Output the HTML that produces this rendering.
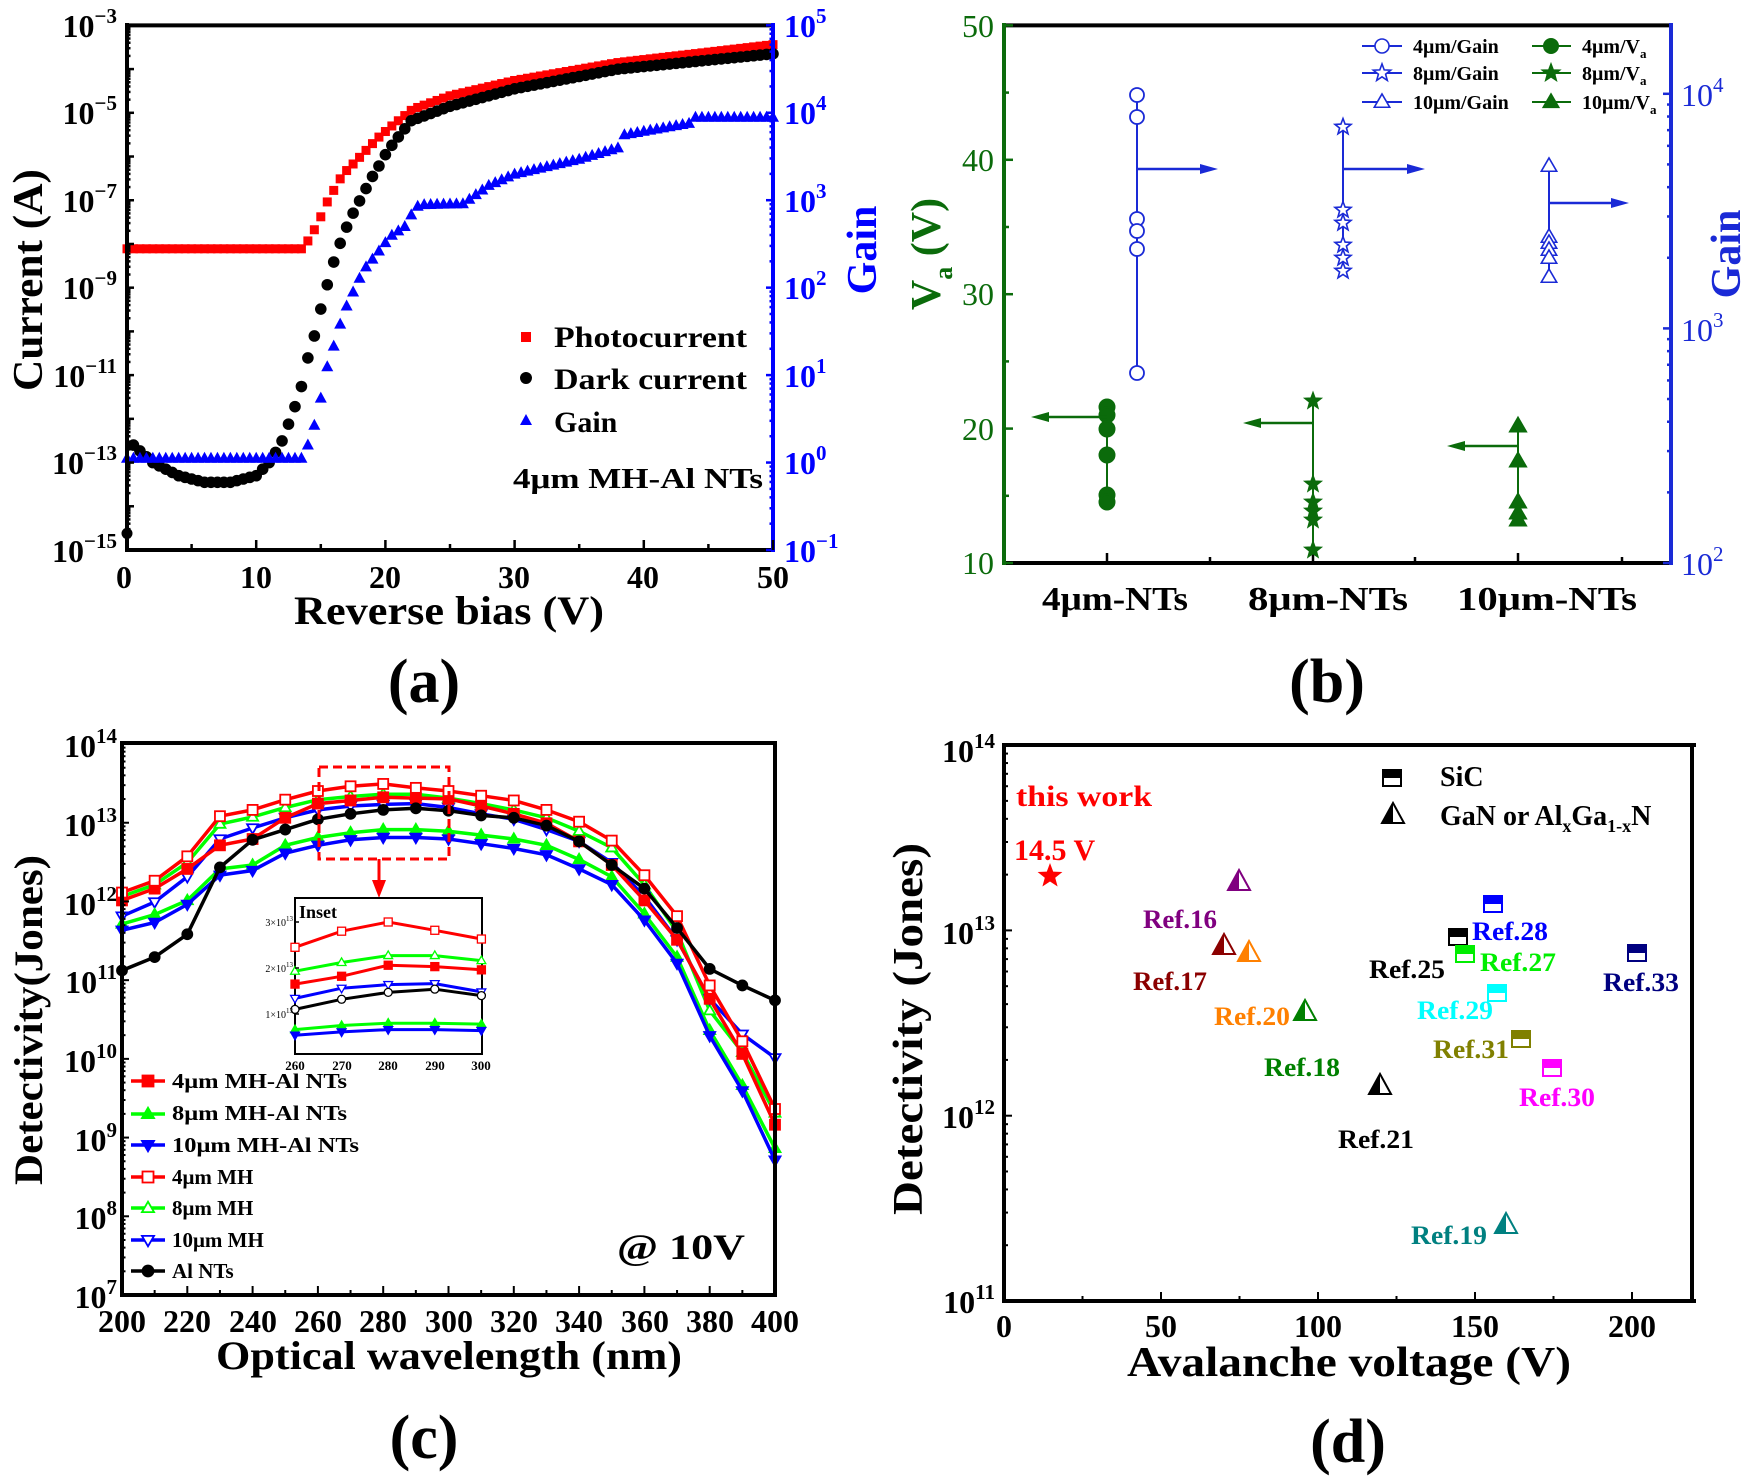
<!DOCTYPE html>
<html><head><meta charset="utf-8"><style>
html,body{margin:0;padding:0;background:#fff}
svg{display:block}
text{font-family:"Liberation Serif",serif;font-weight:bold}
</style></head><body>
<svg id="s" xmlns="http://www.w3.org/2000/svg" width="1750" height="1478" viewBox="0 0 1750 1478">
<rect width="1750" height="1478" fill="#fff"/>
<g id="dyn"></g>

<!-- ===== Panel (a) ===== -->
<g font-size="32">
<text x="117" y="37" text-anchor="end">10<tspan dy="-14" font-size="21">−3</tspan></text>
<text x="117" y="124" text-anchor="end">10<tspan dy="-14" font-size="21">−5</tspan></text>
<text x="117" y="212" text-anchor="end">10<tspan dy="-14" font-size="21">−7</tspan></text>
<text x="117" y="299" text-anchor="end">10<tspan dy="-14" font-size="21">−9</tspan></text>
<text x="117" y="387" text-anchor="end">10<tspan dy="-14" font-size="21">−11</tspan></text>
<text x="117" y="474" text-anchor="end">10<tspan dy="-14" font-size="21">−13</tspan></text>
<text x="117" y="562" text-anchor="end">10<tspan dy="-14" font-size="21">−15</tspan></text>
<text x="124" y="588" text-anchor="middle">0</text>
<text x="256" y="588" text-anchor="middle">10</text>
<text x="385" y="588" text-anchor="middle">20</text>
<text x="514" y="588" text-anchor="middle">30</text>
<text x="643" y="588" text-anchor="middle">40</text>
<text x="773" y="588" text-anchor="middle">50</text>
</g>
<g font-size="32" fill="#0000ff">
<text x="784" y="37">10<tspan dy="-14" font-size="21">5</tspan></text>
<text x="784" y="124">10<tspan dy="-14" font-size="21">4</tspan></text>
<text x="784" y="212">10<tspan dy="-14" font-size="21">3</tspan></text>
<text x="784" y="299">10<tspan dy="-14" font-size="21">2</tspan></text>
<text x="784" y="387">10<tspan dy="-14" font-size="21">1</tspan></text>
<text x="784" y="474">10<tspan dy="-14" font-size="21">0</tspan></text>
<text x="784" y="562">10<tspan dy="-14" font-size="21">−1</tspan></text>
</g>
<text x="449" y="624" font-size="40" text-anchor="middle" textLength="310" lengthAdjust="spacingAndGlyphs">Reverse bias (V)</text>
<text transform="translate(42,280) rotate(-90)" font-size="42" text-anchor="middle" textLength="222" lengthAdjust="spacingAndGlyphs">Current (A)</text>
<text transform="translate(876,250) rotate(-90)" font-size="42" fill="#0000ff" text-anchor="middle">Gain</text>
<g font-size="30">
<text x="554" y="347" textLength="193" lengthAdjust="spacingAndGlyphs">Photocurrent</text>
<text x="554" y="389" textLength="193" lengthAdjust="spacingAndGlyphs">Dark current</text>
<text x="554" y="432">Gain</text>
<text x="513" y="488" font-size="28" textLength="250" lengthAdjust="spacingAndGlyphs">4μm MH-Al NTs</text>
</g>
<text x="424" y="702" font-size="62" text-anchor="middle">(a)</text>

<!-- ===== Panel (b) ===== -->
<g font-size="32" fill="#0b6b0b" text-anchor="end">
<text x="994" y="37" style="font-weight:normal">50</text>
<text x="994" y="171" style="font-weight:normal">40</text>
<text x="994" y="305" style="font-weight:normal">30</text>
<text x="994" y="440" style="font-weight:normal">20</text>
<text x="994" y="574" style="font-weight:normal">10</text>
</g>
<g font-size="32" fill="#1a2ad6">
<text x="1681" y="106" style="font-weight:normal">10<tspan dy="-14" font-size="21">4</tspan></text>
<text x="1681" y="341" style="font-weight:normal">10<tspan dy="-14" font-size="21">3</tspan></text>
<text x="1681" y="575" style="font-weight:normal">10<tspan dy="-14" font-size="21">2</tspan></text>
</g>
<text transform="translate(940,254) rotate(-90)" font-size="42" fill="#0b6b0b" text-anchor="middle">V<tspan font-size="26" dy="12">a</tspan><tspan dy="-12"> (V)</tspan></text>
<text transform="translate(1740,254) rotate(-90)" font-size="42" fill="#1a2ad6" text-anchor="middle">Gain</text>
<g font-size="34" text-anchor="middle">
<text x="1115" y="610" textLength="146" lengthAdjust="spacingAndGlyphs">4μm-NTs</text>
<text x="1328" y="610" textLength="160" lengthAdjust="spacingAndGlyphs">8μm-NTs</text>
<text x="1547" y="610" textLength="180" lengthAdjust="spacingAndGlyphs">10μm-NTs</text>
</g>
<g font-size="20">
<text x="1413" y="53">4μm/Gain</text>
<text x="1413" y="80">8μm/Gain</text>
<text x="1413" y="109">10μm/Gain</text>
<text x="1582" y="53">4μm/V<tspan font-size="13" dy="5">a</tspan></text>
<text x="1582" y="80">8μm/V<tspan font-size="13" dy="5">a</tspan></text>
<text x="1582" y="109">10μm/V<tspan font-size="13" dy="5">a</tspan></text>
</g>
<text x="1327" y="702" font-size="62" text-anchor="middle">(b)</text>

<!-- ===== Panel (c) ===== -->
<g font-size="32">
<text x="117" y="757" text-anchor="end">10<tspan dy="-14" font-size="21">14</tspan></text>
<text x="117" y="836" text-anchor="end">10<tspan dy="-14" font-size="21">13</tspan></text>
<text x="117" y="915" text-anchor="end">10<tspan dy="-14" font-size="21">12</tspan></text>
<text x="117" y="993" text-anchor="end">10<tspan dy="-14" font-size="21">11</tspan></text>
<text x="117" y="1072" text-anchor="end">10<tspan dy="-14" font-size="21">10</tspan></text>
<text x="117" y="1151" text-anchor="end">10<tspan dy="-14" font-size="21">9</tspan></text>
<text x="117" y="1229" text-anchor="end">10<tspan dy="-14" font-size="21">8</tspan></text>
<text x="117" y="1308" text-anchor="end">10<tspan dy="-14" font-size="21">7</tspan></text>
<text x="122" y="1332" text-anchor="middle">200</text>
<text x="187" y="1332" text-anchor="middle">220</text>
<text x="253" y="1332" text-anchor="middle">240</text>
<text x="318" y="1332" text-anchor="middle">260</text>
<text x="383" y="1332" text-anchor="middle">280</text>
<text x="449" y="1332" text-anchor="middle">300</text>
<text x="514" y="1332" text-anchor="middle">320</text>
<text x="579" y="1332" text-anchor="middle">340</text>
<text x="645" y="1332" text-anchor="middle">360</text>
<text x="710" y="1332" text-anchor="middle">380</text>
<text x="775" y="1332" text-anchor="middle">400</text>
</g>
<text x="449" y="1369" font-size="40" text-anchor="middle" textLength="466" lengthAdjust="spacingAndGlyphs">Optical wavelength (nm)</text>
<text transform="translate(42,1020) rotate(-90)" font-size="40" text-anchor="middle" textLength="330" lengthAdjust="spacingAndGlyphs">Detectivity(Jones)</text>
<g font-size="21">
<text x="172" y="1088" textLength="175" lengthAdjust="spacingAndGlyphs">4μm MH-Al NTs</text>
<text x="172" y="1120" textLength="175" lengthAdjust="spacingAndGlyphs">8μm MH-Al NTs</text>
<text x="172" y="1152" textLength="187" lengthAdjust="spacingAndGlyphs">10μm MH-Al NTs</text>
<text x="172" y="1184">4μm MH</text>
<text x="172" y="1215">8μm MH</text>
<text x="172" y="1247">10μm MH</text>
<text x="172" y="1278">Al NTs</text>
</g>
<text x="617" y="1259" font-size="36" textLength="128" lengthAdjust="spacingAndGlyphs">@ 10V</text>
<g font-size="10" text-anchor="end">
<text x="293" y="926" style="font-weight:normal">3×10<tspan dy="-5" font-size="7">13</tspan></text>
<text x="293" y="972" style="font-weight:normal">2×10<tspan dy="-5" font-size="7">13</tspan></text>
<text x="293" y="1018" style="font-weight:normal">1×10<tspan dy="-5" font-size="7">13</tspan></text>
</g>
<g font-size="13" text-anchor="middle">
<text x="295" y="1070">260</text><text x="342" y="1070">270</text><text x="388" y="1070">280</text><text x="435" y="1070">290</text><text x="481" y="1070">300</text>
</g>
<text x="299" y="918" font-size="18">Inset</text>
<text x="424" y="1458" font-size="62" text-anchor="middle">(c)</text>

<!-- ===== Panel (d) ===== -->
<g font-size="32">
<text x="995" y="762" text-anchor="end">10<tspan dy="-14" font-size="21">14</tspan></text>
<text x="995" y="944" text-anchor="end">10<tspan dy="-14" font-size="21">13</tspan></text>
<text x="995" y="1128" text-anchor="end">10<tspan dy="-14" font-size="21">12</tspan></text>
<text x="995" y="1313" text-anchor="end">10<tspan dy="-14" font-size="21">11</tspan></text>
<text x="1004" y="1337" text-anchor="middle">0</text>
<text x="1161" y="1337" text-anchor="middle">50</text>
<text x="1318" y="1337" text-anchor="middle">100</text>
<text x="1475" y="1337" text-anchor="middle">150</text>
<text x="1632" y="1337" text-anchor="middle">200</text>
</g>
<text x="1349" y="1376" font-size="42" text-anchor="middle" textLength="444" lengthAdjust="spacingAndGlyphs">Avalanche voltage (V)</text>
<text transform="translate(922,1029) rotate(-90)" font-size="42" text-anchor="middle" textLength="372" lengthAdjust="spacingAndGlyphs">Detectivity (Jones)</text>
<text x="1016" y="806" font-size="30" fill="#ff0000" textLength="136" lengthAdjust="spacingAndGlyphs">this work</text>
<text x="1014" y="860" font-size="30" fill="#ff0000">14.5 V</text>
<g font-size="28">
<text x="1440" y="786">SiC</text>
<text x="1440" y="825">GaN or Al<tspan font-size="18" dy="7">x</tspan><tspan dy="-7">Ga</tspan><tspan font-size="18" dy="7">1-x</tspan><tspan dy="-7">N</tspan></text>
</g>
<g font-size="26" text-anchor="middle" lengthAdjust="spacingAndGlyphs">
<text x="1180" y="928" fill="#800080" textLength="74" lengthAdjust="spacingAndGlyphs">Ref.16</text>
<text x="1170" y="990" fill="#8b0000" textLength="74" lengthAdjust="spacingAndGlyphs">Ref.17</text>
<text x="1252" y="1025" fill="#ff8000" textLength="76" lengthAdjust="spacingAndGlyphs">Ref.20</text>
<text x="1302" y="1076" fill="#008000" textLength="76" lengthAdjust="spacingAndGlyphs">Ref.18</text>
<text x="1376" y="1148" textLength="76" lengthAdjust="spacingAndGlyphs">Ref.21</text>
<text x="1449" y="1244" fill="#008080" textLength="76" lengthAdjust="spacingAndGlyphs">Ref.19</text>
<text x="1407" y="978" textLength="76" lengthAdjust="spacingAndGlyphs">Ref.25</text>
<text x="1510" y="940" fill="#0000ff" textLength="76" lengthAdjust="spacingAndGlyphs">Ref.28</text>
<text x="1518" y="971" fill="#00ee00" textLength="76" lengthAdjust="spacingAndGlyphs">Ref.27</text>
<text x="1455" y="1019" fill="#00ffff" textLength="76" lengthAdjust="spacingAndGlyphs">Ref.29</text>
<text x="1471" y="1058" fill="#808000" textLength="76" lengthAdjust="spacingAndGlyphs">Ref.31</text>
<text x="1557" y="1106" fill="#ff00ff" textLength="76" lengthAdjust="spacingAndGlyphs">Ref.30</text>
<text x="1641" y="991" fill="#000080" textLength="76" lengthAdjust="spacingAndGlyphs">Ref.33</text>
</g>
<text x="1348" y="1462" font-size="62" text-anchor="middle">(d)</text>
</svg>
<script>
const NS="http://www.w3.org/2000/svg";const G=document.getElementById('dyn');
function el(t,a,p){const e=document.createElementNS(NS,t);for(const k in a)e.setAttribute(k,a[k]);(p||G).appendChild(e);return e;}
function interp(pts,x){for(let i=0;i<pts.length-1;i++){if(x>=pts[i][0]&&x<=pts[i+1][0]){const t=(x-pts[i][0])/(pts[i+1][0]-pts[i][0]||1);return pts[i][1]+t*(pts[i+1][1]-pts[i][1]);}}return pts[pts.length-1][1];}
function starPts(cx,cy,r){let s=[];for(let i=0;i<10;i++){const a=-Math.PI/2+i*Math.PI/5;const rr=i%2?r*0.42:r;s.push((cx+rr*Math.cos(a)).toFixed(1)+','+(cy+rr*Math.sin(a)).toFixed(1));}return s.join(' ');}
function marker(type,x,y,r,col,fill,sw){sw=sw||2;const f=fill?col:'#fff';
 if(type=='sq')el('rect',{x:x-r,y:y-r,width:2*r,height:2*r,fill:f,stroke:col,'stroke-width':sw});
 else if(type=='ci')el('circle',{cx:x,cy:y,r:r,fill:f,stroke:col,'stroke-width':sw});
 else if(type=='tu')el('polygon',{points:`${x},${y-r*1.15} ${x-r*1.1},${y+r*0.75} ${x+r*1.1},${y+r*0.75}`,fill:f,stroke:col,'stroke-width':sw});
 else if(type=='td')el('polygon',{points:`${x},${y+r*1.15} ${x-r*1.1},${y-r*0.75} ${x+r*1.1},${y-r*0.75}`,fill:f,stroke:col,'stroke-width':sw});
 else if(type=='st')el('polygon',{points:starPts(x,y,r*1.3),fill:f,stroke:col,'stroke-width':sw});}
function line(x1,y1,x2,y2,c,w){el('line',{x1,y1,x2,y2,stroke:c,'stroke-width':w||2});}
function poly(pts,c,w){el('polyline',{points:pts.map(p=>p[0].toFixed(1)+','+p[1].toFixed(1)).join(' '),fill:'none',stroke:c,'stroke-width':w||2});}
function logTicksY(x,y0,dec,n,len,col,w,right){
 for(let d=0;d<=n;d++){const yb=y0-d*dec;line(x,yb,x+(right?-len:len),yb,col,w);
  if(d<n)for(let m=2;m<10;m++){const y=yb-Math.log10(m)*dec;line(x,y,x+(right?-len*0.5:len*0.5),y,col,w);}}}

(function(){
 const X=v=>127+v*12.92, Yc=l=>25.4+(-3-l)*43.72, Yg=l=>25.4+(5-l)*87.45;
 const photo=[[0,-8.11],[13.5,-8.11],[13.9,-7.98],[14.4,-7.73],[14.9,-7.45],[15.4,-7.09],[15.9,-6.83],[16.4,-6.55],[16.9,-6.35],[17.9,-6.05],[18.4,-5.89],[19.4,-5.58],[20.5,-5.3],[22.1,-4.92],[25,-4.61],[30,-4.26],[38,-3.85],[50,-3.44]];
 const dark=[[0.5,-12.6],[2,-13.0],[4,-13.3],[6,-13.45],[8,-13.45],[10,-13.3],[11,-13.0],[11.9,-12.58],[12.4,-12.2],[13.4,-11.4],[13.9,-10.7],[14.4,-10.23],[14.9,-9.6],[15.4,-9.04],[15.9,-8.5],[16.4,-8.06],[16.9,-7.68],[17.4,-7.35],[17.9,-7.07],[18.4,-6.79],[18.9,-6.5],[19.4,-6.27],[19.9,-6.0],[20.6,-5.7],[22,-5.18],[25,-4.85],[30,-4.45],[38,-4.0],[50,-3.65]];
 const gain=[[0,0.05],[13.5,0.05],[13.9,0.16],[14.4,0.37],[14.9,0.66],[15.4,1.05],[15.9,1.28],[16.4,1.54],[16.9,1.76],[17.4,1.92],[17.9,2.08],[18.4,2.22],[19.4,2.4],[19.9,2.5],[20.5,2.6],[21.5,2.7],[22.1,2.86],[22.6,2.95],[26,2.96],[28,3.17],[30,3.3],[35,3.47],[38,3.6],[38.5,3.75],[43.5,3.88],[44,3.95],[50,3.95]];
 for(let v=0;v<=50.01;v+=0.5){el('rect',{x:X(v)-4.5,y:Yc(interp(photo,v))-4.5,width:9,height:9,fill:'#ff0000'});}
 el('circle',{cx:X(0),cy:Yc(-14.62),r:5.5,fill:'#000'});
 for(let v=0.5;v<=50.01;v+=0.5){el('circle',{cx:X(v),cy:Yc(interp(dark,v)),r:5.8,fill:'#000'});}
 for(let v=0;v<=50.01;v+=0.5){const x=X(v),y=Yg(interp(gain,v));el('polygon',{points:`${x},${y-6.5} ${x-6},${y+4.5} ${x+6},${y+4.5}`,fill:'#0000ff'});}
 line(125,25.4,773,25.4,'#000',4);line(125,550,773,550,'#000',4);line(127,23,127,552,'#000',4);
 line(773,23,773,552,'#0000ff',4);
 logTicksY(127,550,43.72,12,7,'#000',2.5,false);
 logTicksY(773,550,87.45,6,7,'#0000ff',2.5,true);
 for(let v=0;v<=50;v+=5)line(X(v),550,X(v),v%10?544:540,'#000',2.5);
 el('rect',{x:521,y:332,width:10,height:10,fill:'#ff0000'});
 el('circle',{cx:526,cy:378,r:6,fill:'#000'});
 el('polygon',{points:'526,414 520,425 532,425',fill:'#0000ff'});
})();

(function(){
 const GR='#0b6b0b',BL='#1a2ad6';
 line(1002,25.4,1672,25.4,'#000',4);line(1002,563,1672,563,'#000',4);
 line(1004,23,1004,565,GR,4);line(1671,23,1671,565,BL,4);
 for(let v=10;v<=50;v+=5){const y=563-(v-10)*13.44;line(1004,y,1004+(v%10?5:9),y,GR,2.5);}
 logTicksY(1671,563,234.6,2,8,BL,2.5,true);
 [1107,1313,1518].forEach(x=>line(x,563,x,553,'#000',2.5));[1210,1415,1622].forEach(x=>line(x,563,x,557,'#000',2.5));
 function arrow(x1,x2,y,c){line(x1,y,x2+(x2>x1?-10:10),y,c,2.5);const d=x2>x1?-1:1;el('polygon',{points:`${x2},${y} ${x2+d*18},${y-5} ${x2+d*18},${y+5}`,fill:c});}
 line(1137,95,1137,373,BL,2);[95,117,219,231,249,373].forEach(y=>marker('ci',1137,y,7,BL,false,1.8));arrow(1137,1218,169,BL);
 line(1343,127,1343,271,BL,2);[127,210,223,245,258,271].forEach(y=>marker('st',1343,y,6.5,BL,false,1.6));arrow(1343,1425,169,BL);
 line(1549,166,1549,277,BL,2);[166,237,243,250,258,277].forEach(y=>marker('tu',1549,y,7,BL,false,1.6));arrow(1549,1629,203,BL);
 line(1107,407,1107,502,GR,2);[407,415,429,455,495,502].forEach(y=>marker('ci',1107,y,7.5,GR,true));arrow(1107,1031,417,GR);
 line(1313,401,1313,550,GR,2);[401,484,502,511,520,550].forEach(y=>marker('st',1313,y,7,GR,true,1));arrow(1313,1243,423,GR);
 line(1518,426,1518,520,GR,2);[426,461,502,513,520].forEach(y=>marker('tu',1518,y,8,GR,true,1));arrow(1518,1447,446,GR);
 [[46,'ci'],[73,'st'],[102,'tu']].forEach(([y,t])=>{line(1362,y,1402,y,BL,2);marker(t,1382,y,7,BL,false,1.6);line(1532,y,1571,y,GR,2);marker(t,1551,y,7.5,GR,true,1);});
})();

(function(){
 const X=n=>122+(n-200)*3.265,Y=l=>743+(14-l)*78.71;
 const S=[
  ['#00ff00','tu',false,[12.05,12.2,12.48,12.97,13.06,13.18,13.28,13.32,13.35,13.35,13.3,13.23,13.15,13.05,12.88,12.67,12.2,11.6,10.6,10.07,9.3]],
  ['#0000ff','td',false,[11.8,11.98,12.3,12.78,12.92,13.05,13.15,13.2,13.22,13.23,13.18,13.1,13.03,12.9,12.75,12.48,12.05,11.5,10.75,10.3,10.0]],
  ['#ff0000','sq',true,[12.0,12.15,12.4,12.7,12.78,13.05,13.23,13.27,13.31,13.3,13.29,13.2,13.1,12.98,12.75,12.45,12.0,11.5,10.75,10.05,9.15]],
  ['#00ff00','tu',true,[11.7,11.82,12.0,12.4,12.45,12.7,12.8,12.86,12.9,12.9,12.88,12.83,12.78,12.7,12.52,12.3,11.83,11.28,10.35,9.65,8.85]],
  ['#0000ff','td',true,[11.62,11.72,11.95,12.32,12.38,12.6,12.7,12.77,12.8,12.8,12.78,12.72,12.66,12.58,12.4,12.2,11.75,11.2,10.28,9.58,8.7]],
  ['#ff0000','sq',false,[12.1,12.25,12.56,13.07,13.15,13.28,13.39,13.45,13.48,13.43,13.39,13.33,13.27,13.15,13.0,12.76,12.32,11.8,10.92,10.21,9.35]],
  ['#000','ci',true,[11.11,11.28,11.57,12.42,12.77,12.9,13.03,13.1,13.15,13.17,13.14,13.08,13.05,12.95,12.75,12.45,12.15,11.65,11.13,10.92,10.73]]];
 S.forEach(([c,t,f,d])=>{poly(d.map((l,i)=>[X(200+10*i),Y(l)]),c,3.5);d.forEach((l,i)=>marker(t,X(200+10*i),Y(l),5,c,f,1.8));});
 line(120,743,777,743,'#000',4);line(120,1295,777,1295,'#000',4);line(122,741,122,1297,'#000',4);line(775,741,775,1297,'#000',4);
 logTicksY(122,1295,78.71,7,7,'#000',2,false);
 for(let n=200;n<=400;n+=10)line(X(n),1295,X(n),n%20?1290:1286,'#000',2);
 el('rect',{x:319,y:767,width:130,height:92,fill:'none',stroke:'#ff0000','stroke-width':3,'stroke-dasharray':'9,5'});
 line(379,859,379,882,'#ff0000',3);el('polygon',{points:'372,880 386,880 379,898',fill:'#ff0000'});
 el('rect',{x:295,y:898,width:187,height:156,fill:'#fff',stroke:'#000','stroke-width':2});
 const IX=n=>295+(n-260)*4.66,IY=v=>1060-v*46;
 const IS=[['#ff0000','sq',false,[2.45,2.8,3.0,2.82,2.63]],['#00ff00','tu',false,[1.93,2.12,2.27,2.27,2.16]],['#ff0000','sq',true,[1.65,1.82,2.06,2.03,1.96]],['#0000ff','td',false,[1.34,1.56,1.64,1.66,1.48]],['#000','ci',false,[1.1,1.32,1.47,1.54,1.4]],['#00ff00','tu',true,[0.66,0.75,0.8,0.8,0.78]],['#0000ff','td',true,[0.54,0.61,0.66,0.66,0.64]]];
 IS.forEach(([c,t,f,d])=>{poly(d.map((v,i)=>[IX(260+10*i),IY(v)]),c,3);d.forEach((v,i)=>marker(t,IX(260+10*i),IY(v),4,c,f,1.3));});
 [922,968,1014].forEach(y=>line(295,y,299,y,'#000',1.5));
 [['#ff0000','sq',true],['#00ff00','tu',true],['#0000ff','td',true],['#ff0000','sq',false],['#00ff00','tu',false],['#0000ff','td',false],['#000','ci',true]].forEach(([c,t,f],i)=>{const y=[1081,1114,1145,1177,1208,1240,1271][i];line(131,y,165,y,c,3.5);marker(t,148,y,5.5,c,f,1.8);});
})();

(function(){
 line(1002,745,1696,745,'#000',4);line(1002,1301,1696,1301,'#000',4);line(1004,743,1004,1303,'#000',4);line(1692,743,1692,1303,'#000',4);
 logTicksY(1004,1301,185.3,3,8,'#000',2,false);
 for(let v=0;v<=200;v+=25){const x=1004+v*3.14;line(x,1301,x,v%50?1296:1292,'#000',2);}
 function hsq(x,y,c){el('rect',{x:x-9,y:y-8,width:18,height:16,fill:'#fff',stroke:c,'stroke-width':2});el('rect',{x:x-9,y:y-8,width:18,height:8,fill:c});}
 function htri(x,y,c){el('polygon',{points:`${x},${y-12} ${x-11},${y+8} ${x+11},${y+8}`,fill:'#fff',stroke:c,'stroke-width':2});el('polygon',{points:`${x},${y-12} ${x-11},${y+8} ${x},${y+8}`,fill:c});}
 el('polygon',{points:starPts(1050,876,13),fill:'#ff0000'});
 htri(1239,882,'#800080');htri(1224,946,'#8b0000');htri(1249,953,'#ff8000');htri(1305,1012,'#008000');htri(1380,1086,'#000');htri(1506,1225,'#008080');
 hsq(1458,937,'#000');hsq(1493,904,'#0000ff');hsq(1465,954,'#00ee00');hsq(1497,993,'#00ffff');hsq(1521,1039,'#808000');hsq(1552,1068,'#ff00ff');hsq(1637,953,'#000080');
 hsq(1392,778,'#000');htri(1393,815,'#000');
})();
</script>
</body></html>
